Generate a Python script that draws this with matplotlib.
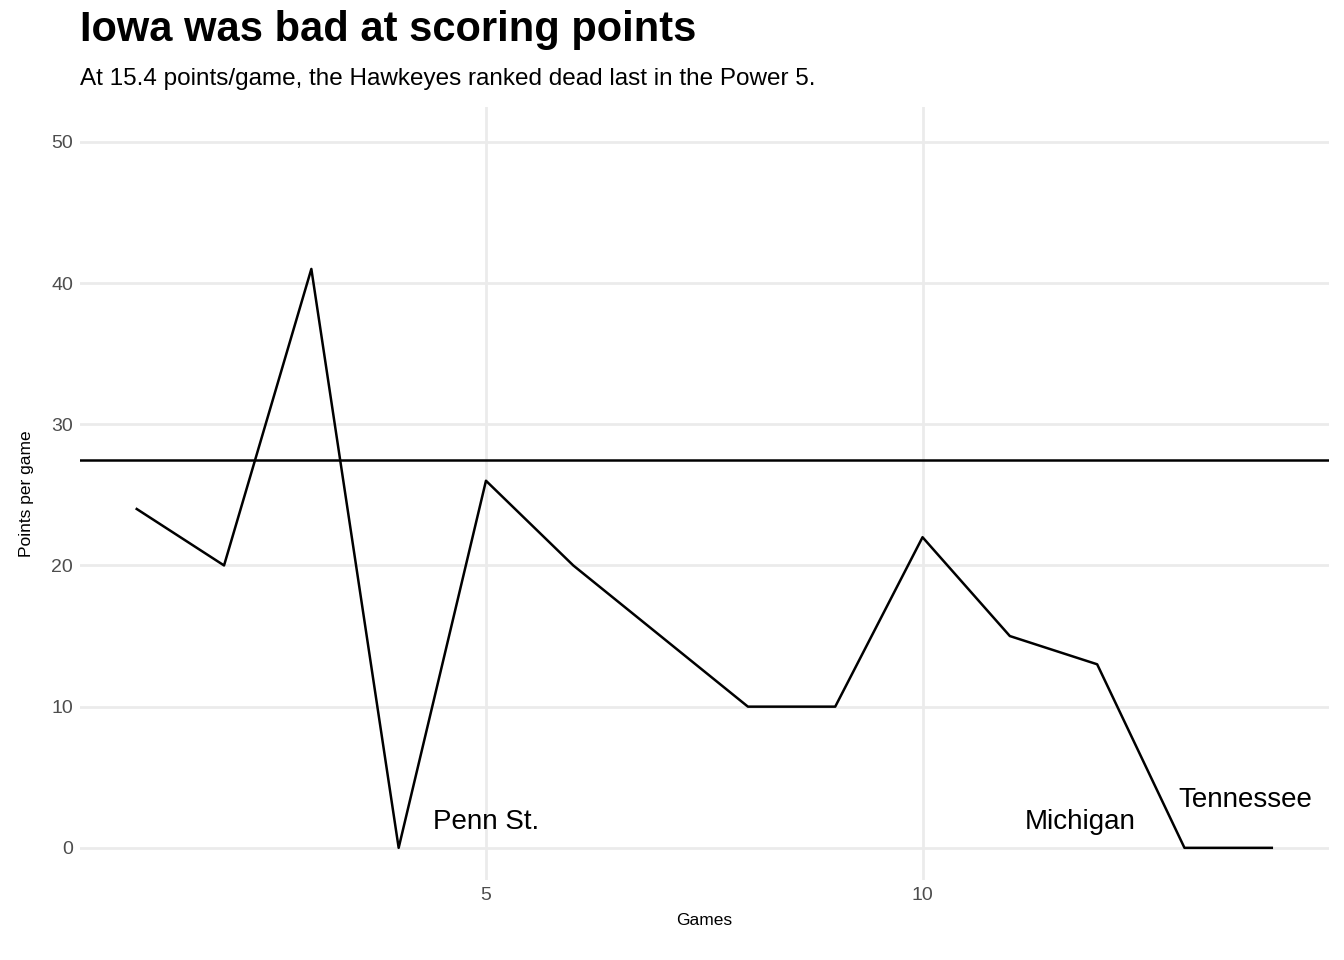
import matplotlib.pyplot as plt

games = list(range(1, 15))
points = [24, 20, 41, 0, 26, 20, 15, 10, 10, 22, 15, 13, 0, 0]
power5_avg = 27.5
labels = [("Penn St.", 5.0, 1.8), ("Michigan", 11.8, 1.8), ("Tennessee", 13.7, 3.4)]

plt.rcParams["font.family"] = ["Liberation Sans", "DejaVu Sans"]

fig = plt.figure(figsize=(13.44, 9.6), dpi=100)
ax = fig.add_axes([0.0595, 0.083, 0.929, 0.806])

ax.plot(games, points, color="black", lw=1.8)
ax.axhline(power5_avg, color="black", lw=1.8)
for txt, x, y in labels:
    ax.text(x, y, txt, ha="center", va="center", fontsize=20)

ax.set_xlim(0.35, 14.65)
ax.set_ylim(-2.3, 52.5)
ax.set_xticks([5, 10])
ax.set_yticks([0, 10, 20, 30, 40, 50])
ax.grid(color="#ebebeb", lw=2)
ax.set_axisbelow(True)
for s in ax.spines.values():
    s.set_visible(False)
ax.tick_params(length=0, labelsize=14, labelcolor="#4d4d4d", pad=5)
ax.set_xlabel("Games", fontsize=12.5, labelpad=6)
ax.set_ylabel("Points per game", fontsize=12.5, labelpad=12)

fig.text(0.0595, 0.948, "Iowa was bad at scoring points", fontsize=30, fontweight="bold", va="bottom")
fig.text(0.0595, 0.906, "At 15.4 points/game, the Hawkeyes ranked dead last in the Power 5.", fontsize=17.5, va="bottom")

fig.savefig("out.png", dpi=100)
